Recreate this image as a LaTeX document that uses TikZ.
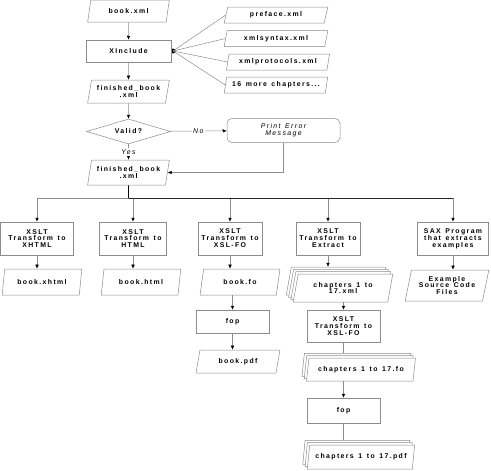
\documentclass[tikz,border=0pt]{standalone}
\usepackage{fontspec}
\newfontfamily\flowfont{Liberation Sans}[LetterSpace=20, WordSpace=1.4]
\usetikzlibrary{shapes.geometric,shadows,arrows.meta,calc}
\begin{document}
\begin{tikzpicture}[x=1pt,y=-1pt,
  font=\flowfont\bfseries\fontsize{6.9}{6.9}\selectfont,
  every node/.style={align=center, inner sep=1pt},
  >={Latex[length=4pt,width=3.5pt,color=black]},
  line/.style={draw=black!45, line width=0.5pt},
  doc/.style={trapezium, trapezium left angle=76, trapezium right angle=104, trapezium stretches=true, draw=black!45, fill=white, line width=0.5pt},
  proc/.style={rectangle, draw=black!45, fill=white, line width=0.5pt},
  back/.style={copy shadow={shadow xshift=-#1, shadow yshift=#1, draw=black!45, fill=white, line width=0.5pt}},
  stacktwo/.style={back=4.6pt, back=2.3pt, doc},
  stackthree/.style={back=6.9pt, back=4.6pt, back=2.3pt, doc},
  dot/.style={circle, fill=black, inner sep=0pt, minimum size=5pt},
  lbl/.style={font=\flowfont\itshape\fontsize{6.9}{6.9}\selectfont, fill=white, inner sep=1.5pt}]
\useasboundingbox (0,0) rectangle (491,471);
\node[doc, minimum width=82pt, minimum height=22pt] (bookxml) at (128.5,11) {book.xml};
\node[dot] (hub) at (173,51) {};
\node[proc, minimum width=85pt, minimum height=22pt] (xinc) at (128.5,51) {XInclude};
\node[doc, minimum width=104pt, minimum height=16pt] (pref) at (276,15) {preface.xml};
\node[doc, minimum width=104pt, minimum height=16pt] (syn) at (276,38.5) {xmlsyntax.xml};
\node[doc, minimum width=104pt, minimum height=16pt] (prot) at (278,62) {xmlprotocols.xml};
\node[doc, minimum width=104pt, minimum height=16pt] (more) at (276,85) {16 more chapters...};
\node[doc, minimum width=82pt, minimum height=23pt] (fbone) at (128.5,91.5) {finished\_book\\.xml};
\node[diamond, draw=black!45, fill=white, line width=0.5pt, aspect=3.4, minimum width=84pt, minimum height=25pt, inner sep=0pt] (valid) at (128.5,131.5) {Valid?};
\node[proc, rounded corners=5pt, minimum width=113pt, minimum height=24pt, font=\flowfont\itshape\fontsize{6.9}{6.9}\selectfont] (err) at (283.5,130.5) {Print Error\\Message};
\node[doc, minimum width=82pt, minimum height=25pt] (fbtwo) at (128.5,172.5) {finished\_book\\.xml};
\coordinate (split) at (128.5,198);

\node[proc, minimum width=73pt, minimum height=33pt] (xhtml) at (37,238.5) {XSLT\\Transform to\\XHTML};
\node[proc, minimum width=67pt, minimum height=33pt] (html) at (133,238.5) {XSLT\\Transform to\\HTML};
\node[proc, minimum width=64pt, minimum height=33pt] (fo) at (230,238.5) {XSLT\\Transform to\\XSL-FO};
\node[proc, minimum width=64pt, minimum height=33pt] (extract) at (328,238.5) {XSLT\\Transform to\\Extract};
\node[proc, minimum width=71pt, minimum height=33pt] (sax) at (453,238.5) {SAX Program\\that extracts\\examples};

\node[doc, minimum width=80pt, minimum height=26pt] (dxhtml) at (42,282) {book.xhtml};
\node[doc, minimum width=80pt, minimum height=26pt] (dhtml) at (141,282) {book.html};
\node[doc, minimum width=80pt, minimum height=26pt] (dfo) at (240,282) {book.fo};
\node[stackthree, minimum width=100pt, minimum height=28pt] (dxml) at (343,288) {chapters 1 to\\17.xml};
\node[doc, minimum width=84pt, minimum height=31pt] (dex) at (447,285.5) {Example\\Source Code\\Files};

\node[proc, minimum width=73pt, minimum height=23pt] (fopa) at (232.5,321.5) {fop};
\node[doc, minimum width=84pt, minimum height=23pt] (dpdf) at (238,361.5) {book.pdf};
\node[proc, minimum width=73pt, minimum height=32pt] (xslfo) at (343.5,326) {XSLT\\Transform to\\XSL-FO};
\node[stacktwo, minimum width=110pt, minimum height=23pt] (dchfo) at (361,369.5) {chapters 1 to 17.fo};
\node[proc, minimum width=73pt, minimum height=25pt] (fopb) at (343.5,410.5) {fop};
\node[stacktwo, minimum width=108pt, minimum height=24pt] (dchpdf) at (361,457) {chapters 1 to 17.pdf};

\draw[line,->] (bookxml) -- (xinc);
\draw[line] (hub.center) -- (pref.west);
\draw[line] (hub.center) -- (syn.west);
\draw[line] (hub.center) -- (prot.west);
\draw[line] (hub.center) -- (more.west);
\draw[line,->] (xinc) -- (fbone);
\draw[line,->] (fbone) -- (valid);
\draw[line,->] (valid) -- node[lbl] {No} (err);
\draw[line,->] (valid) -- node[lbl] {Yes} (fbtwo);
\draw[line,->] (err) |- (fbtwo);

\draw[line,->] (split) -| (xhtml);
\draw[line,->] (split) -| (html);
\draw[line,->] (split) -| (fo);
\draw[line,->] (split) -| (extract);
\draw[line,->] (split) -| (sax);
\draw[black!85, line width=0.5pt] (split) -- (split -| sax);
\draw[black, line width=0.9pt] (fbtwo) -- (split);

\draw[line,->] (xhtml) -- (xhtml.south |- dxhtml.north);
\draw[line,->] (html) -- (html.south |- dhtml.north);
\draw[line,->] (fo) -- (fo.south |- dfo.north);
\draw[line,->] (extract) -- ($(extract.south |- dxml.north)+(0,-6.9)$);
\draw[line,->] (sax) -- (sax.south |- dex.north);
\draw[line,->] (fopa.north |- dfo.south) -- (fopa);
\draw[line,->] (fopa) -- (fopa.south |- dpdf.north);
\draw[line,->] (xslfo.north |- dxml.south) -- (xslfo);
\draw[line] (xslfo) -- ($(xslfo.south |- dchfo.north)+(0,-4.6)$);
\draw[line,->] (fopb.north |- dchfo.south) -- (fopb);
\draw[line] (fopb) -- ($(fopb.south |- dchpdf.north)+(0,-4.6)$);
\end{tikzpicture}
\end{document}
